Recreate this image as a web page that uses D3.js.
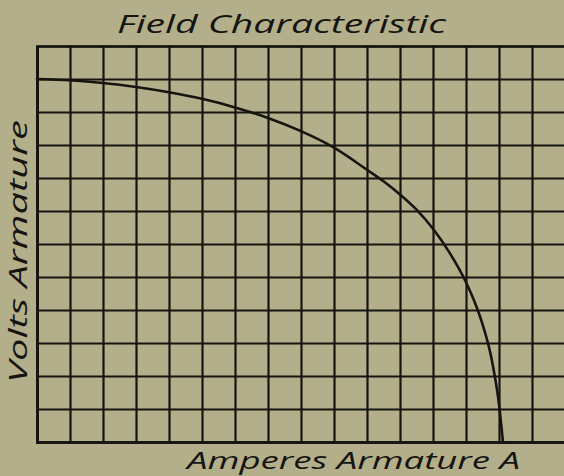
<!DOCTYPE html>
<html>
<head>
<meta charset="utf-8">
<script src="https://cdn.jsdelivr.net/npm/d3@7"></script>
<style>
  html, body { margin: 0; padding: 0; background: #b3af8b; }
  svg { display: block; }
  text { font-family: "Open Sans", "DejaVu Sans", sans-serif; font-style: italic; fill: #161410; }
</style>
</head>
<body>
<svg id="chart" width="564" height="476"></svg>
<script>
// Field characteristic: armature volts vs. armature amperes (grid units)
const amperes = [0, 1, 2, 3, 4, 5, 6, 7, 8, 9, 10, 10.5, 11, 11.5, 12, 12.5, 13, 13.25, 13.5, 13.75, 14, 14.12];
const volts   = [11.0, 10.96, 10.88, 10.76, 10.6, 10.4, 10.14, 9.82, 9.42, 8.92, 8.25, 7.9, 7.5, 7.04, 6.46, 5.74, 4.84, 4.27, 3.57, 2.64, 1.14, 0];

// Ruled paper: grid divisions on each axis
const xDivisions = d3.range(0, 18);
const yDivisions = d3.range(0, 13);

const titleText = "Field Characteristic";
const xLabelText = "Amperes Armature A";
const yLabelText = "Volts Armature";

const ink = "#161410";
const svg = d3.select("#chart");

const x = d3.scaleLinear().domain([0, 17]).range([37, 37 + 17 * 33]);
const y = d3.scaleLinear().domain([0, 12]).range([442, 46]);

// Vertical rulings
const xAxis = d3.axisBottom(x)
  .tickValues(xDivisions)
  .tickSize(-(y(0) - y(12)))
  .tickFormat("");
svg.append("g")
  .attr("transform", `translate(0,${y(0)})`)
  .call(xAxis)
  .call(g => g.select(".domain").attr("stroke", ink).attr("stroke-width", 2.6))
  .call(g => g.selectAll(".tick line").attr("stroke", ink).attr("stroke-width", 2.2));

// Horizontal rulings
const yAxis = d3.axisLeft(y)
  .tickValues(yDivisions)
  .tickSize(-(x(17) - x(0)))
  .tickFormat("");
svg.append("g")
  .attr("transform", `translate(${x(0)},0)`)
  .call(yAxis)
  .call(g => g.select(".domain").attr("stroke", ink).attr("stroke-width", 2.6))
  .call(g => g.selectAll(".tick line").attr("stroke", ink).attr("stroke-width", 2.2));

// Characteristic curve
const line = d3.line()
  .x((d, i) => x(amperes[i]))
  .y(d => y(d))
  .curve(d3.curveMonotoneX);
svg.append("path")
  .datum(volts)
  .attr("d", line)
  .attr("fill", "none")
  .attr("stroke", ink)
  .attr("stroke-width", 2.6)
  .attr("stroke-linecap", "round");

// Title and axis labels
svg.append("text")
  .attr("x", 117).attr("y", 33)
  .attr("textLength", 329).attr("lengthAdjust", "spacingAndGlyphs")
  .attr("font-size", 25)
  .text(titleText);

svg.append("text")
  .attr("x", 187).attr("y", 469)
  .attr("textLength", 333).attr("lengthAdjust", "spacingAndGlyphs")
  .attr("font-size", 24)
  .text(xLabelText);

svg.append("text")
  .attr("transform", "translate(27,383) rotate(-90)")
  .attr("textLength", 263).attr("lengthAdjust", "spacingAndGlyphs")
  .attr("font-size", 25)
  .text(yLabelText);
</script>
</body>
</html>
